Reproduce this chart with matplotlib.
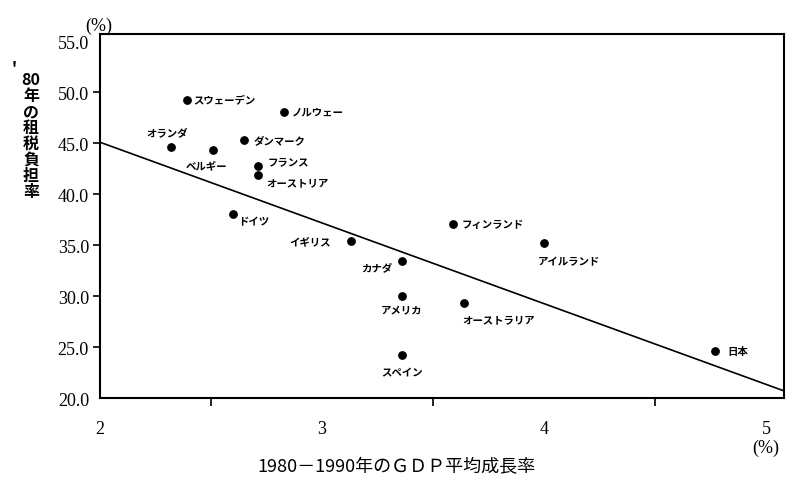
import matplotlib.pyplot as plt

plt.rcParams['font.family'] = ['Noto Sans CJK JP', 'DejaVu Sans']

# data
countries = ['スウェーデン', 'ノルウェー', 'オランダ', 'ベルギー', 'ダンマーク', 'フランス',
             'オーストリア', 'ドイツ', 'フィンランド', 'アイルランド', 'イギリス', 'カナダ',
             'アメリカ', 'オーストラリア', 'スペイン', '日本']
gdp_growth = [2.39, 2.83, 2.32, 2.51, 2.65, 2.71, 2.71, 2.60, 3.59, 4.00, 3.13, 3.36,
              3.36, 3.64, 3.36, 4.77]
tax_burden = [49.2, 48.1, 44.6, 44.3, 45.3, 42.8, 41.9, 38.1, 37.1, 35.2, 35.4, 33.4,
              30.0, 29.3, 24.2, 24.6]
fit_x = [2.0, 5.08]
fit_y = [45.1, 20.7]
x_ticks = [2, 3, 4, 5]
y_ticks = [20, 25, 30, 35, 40, 45, 50, 55]

# label placement (pixel offset right, pixel offset down, alignment)
label_pos = {
    'スウェーデン': (7, 0, 'left'), 'ノルウェー': (8, 0, 'left'),
    'オランダ': (-4, -15, 'center'), 'ベルギー': (-7, 15, 'center'),
    'ダンマーク': (9, 0, 'left'), 'フランス': (10, -4, 'left'),
    'オーストリア': (9, 7, 'left'), 'ドイツ': (5, 8, 'left'),
    'フィンランド': (9, 0, 'left'), 'アイルランド': (-6, 18, 'left'),
    'イギリス': (-20, 0, 'right'), 'カナダ': (-10, 6, 'right'),
    'アメリカ': (0, 13, 'center'), 'オーストラリア': (-2, 16, 'left'),
    'スペイン': (0, 17, 'center'), '日本': (12, 0, 'left'),
}

fig = plt.figure(figsize=(8, 4.89), dpi=100)
ax = fig.add_axes([0.125, 0.184, 0.855, 0.744])

ax.plot(fit_x, fit_y, color='black', lw=1.2)
ax.scatter(gdp_growth, tax_burden, s=28, color='black', zorder=3)

for name, x, y in zip(countries, gdp_growth, tax_burden):
    dx, dy, ha = label_pos[name]
    ax.annotate(name, (x, y), xytext=(dx * 0.72, -dy * 0.72), textcoords='offset points',
                ha=ha, va='center', fontsize=7.5, fontweight='bold')

ax.set_xlim(2, 5.08)
ax.set_ylim(20, 55.7)

serif = 'Liberation Serif'
ax.set_xticks(x_ticks)
ax.set_xticklabels([str(t) for t in x_ticks], fontfamily=serif, fontsize=13)
ax.set_xticks([2.5, 3, 3.5, 4, 4.5], minor=True)
ax.tick_params(axis='x', which='major', length=0, pad=16)
ax.tick_params(axis='x', which='minor', length=6, width=1.2, direction='out')
ax.set_yticks(y_ticks)
ax.set_yticklabels(['%.1f' % t for t in y_ticks], fontfamily=serif, fontsize=13)
ax.tick_params(axis='y', length=5, width=1.2, pad=3)
ax.yaxis.get_major_ticks()[-1].tick1line.set_visible(False)
ax.yaxis.get_major_ticks()[0].tick1line.set_visible(False)

for sp in ax.spines.values():
    sp.set_linewidth(1.5)

fig.text(99 / 800, 1 - 26 / 489, '(%)', fontfamily=serif, fontsize=13, ha='center', va='center')
fig.text(766 / 800, 1 - 448 / 489, '(%)', fontfamily=serif, fontsize=13, ha='center', va='center')

fig.text(14 / 800, 1 - 69 / 489, '\'', fontsize=11, fontweight='bold', ha='center', va='center')
fig.text(31 / 800, 1 - 136 / 489, '80\n年\nの\n租\n税\n負\n担\n率', fontsize=11.5,
         fontweight='bold', ha='center', va='center', linespacing=1.0)

fig.text(396 / 800, 1 - 467 / 489, '1980－1990年のＧＤＰ平均成長率', fontsize=13,
         ha='center', va='center')

fig.savefig('out.png', dpi=100)
